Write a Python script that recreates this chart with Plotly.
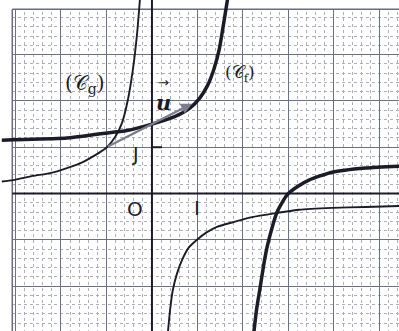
import plotly.graph_objects as go

# ---- data (units of the grid) ----
f_left_x = [-3.3, -3.05, -1.87, -1.14, -0.55, 0.0, 0.5, 0.84, 1.05, 1.22, 1.36, 1.48, 1.58, 1.67]
f_left_y = [1.15, 1.16, 1.20, 1.29, 1.36, 1.50, 1.66, 1.85, 2.06, 2.33, 2.68, 3.12, 3.70, 4.25]
f_right_x = [2.24, 2.30, 2.37, 2.45, 2.53, 2.64, 2.75, 2.97, 3.20, 3.45, 3.96, 4.70, 5.45]
f_right_y = [-3.0, -2.50, -2.08, -1.58, -1.16, -0.74, -0.40, -0.03, 0.15, 0.29, 0.46, 0.55, 0.59]

g_left_x = [-3.3, -3.05, -2.62, -2.24, -1.87, -1.52, -1.21, -0.99, -0.81, -0.66, -0.53, -0.42, -0.33, -0.26]
g_left_y = [0.26, 0.29, 0.38, 0.44, 0.55, 0.68, 0.85, 1.00, 1.22, 1.52, 2.02, 2.67, 3.42, 4.25]
g_right_x = [0.35, 0.40, 0.46, 0.55, 0.66, 0.80, 0.99, 1.20, 1.43, 1.78, 2.20, 2.75, 3.23, 3.96, 4.70, 5.45]
g_right_y = [-3.0, -2.50, -2.08, -1.73, -1.44, -1.18, -1.0, -0.84, -0.72, -0.62, -0.51, -0.42, -0.35, -0.31, -0.29, -0.27]

u_start = [-1.0, 1.0]
u_end = [0.88, 1.94]

x_range = [-3.34, 5.43]
y_range = [-2.97, 4.18]
paper_left = -3.07
paper_top = 3.98

INK = "#1c1c28"

fig = go.Figure()

def curve(xs, ys, w):
    fig.add_trace(go.Scatter(x=xs, y=ys, mode="lines",
                             line=dict(color=INK, width=w, shape="spline", smoothing=0.6),
                             hoverinfo="skip", showlegend=False))

curve(g_left_x, g_left_y, 1.9)
curve(g_right_x, g_right_y, 1.9)
curve(f_left_x, f_left_y, 3.5)
curve(f_right_x, f_right_y, 3.5)

shapes = [
    dict(type="rect", xref="x", yref="y", x0=x_range[0], x1=paper_left,
         y0=y_range[0], y1=y_range[1], fillcolor="white", line=dict(width=0), layer="between"),
    dict(type="rect", xref="x", yref="y", x0=x_range[0], x1=x_range[1],
         y0=paper_top, y1=y_range[1], fillcolor="white", line=dict(width=0), layer="between"),
    dict(type="line", xref="x", yref="y", x0=paper_left, x1=x_range[1], y0=paper_top, y1=paper_top,
         line=dict(color="#686c80", width=1.5), layer="between"),
    dict(type="line", xref="x", yref="y", x0=paper_left, x1=paper_left, y0=y_range[0], y1=paper_top,
         line=dict(color="#686c80", width=1.5), layer="between"),
    dict(type="line", xref="x", yref="y", x0=paper_left, x1=x_range[1], y0=0, y1=0,
         line=dict(color=INK, width=2), layer="between"),
    dict(type="line", xref="x", yref="y", x0=0, x1=0, y0=y_range[0], y1=y_range[1],
         line=dict(color=INK, width=2), layer="between"),
    dict(type="line", xref="x", yref="y", x0=0, x1=0.22, y0=1, y1=1,
         line=dict(color=INK, width=2), layer="between"),
]

# labels, positioned in pixels then converted to data coordinates
X0, UX, Y0, UY = 152.0, 45.5, 193.5, 46.3
labels = [
    (85, 84, "(𝒞<sub>g</sub>)", "DejaVu Serif", 20),
    (240, 73, "(𝒞<sub>f</sub>)", "DejaVu Serif", 17),
    (164, 102, "<b><i>u</i></b>", "DejaVu Serif", 21),
    (164, 82, "→", "DejaVu Sans", 13),
    (136, 154, "J", "DejaVu Sans", 19),
    (135, 209, "O", "DejaVu Sans", 20),
    (197, 208, "I", "DejaVu Sans", 20),
]
annotations = [
    dict(x=u_end[0], y=u_end[1], ax=u_start[0], ay=u_start[1], xref="x", yref="y",
         axref="x", ayref="y", text="", showarrow=True, arrowhead=2, arrowsize=1,
         arrowwidth=2.2, arrowcolor="#7c7c8c"),
]
for px, py, t, fam, sz in labels:
    annotations.append(dict(x=(px - X0) / UX, y=(Y0 - py) / UY, xref="x", yref="y", text=t,
                            showarrow=False, font=dict(family=fam, size=sz, color=INK)))
# caption cut off at the top edge
annotations.append(dict(x=274 / 399, y=1 + 10 / 331, xref="paper", yref="paper", text="(b)",
                        showarrow=False, yanchor="middle",
                        font=dict(family="DejaVu Sans", size=20, color=INK)))

fig.update_layout(
    width=399, height=331,
    margin=dict(l=0, r=0, t=0, b=0),
    paper_bgcolor="white", plot_bgcolor="white",
    shapes=shapes, annotations=annotations,
    xaxis=dict(range=x_range, dtick=1, tick0=0, showgrid=True, gridcolor="#6c7084", gridwidth=1.2,
               zeroline=False, showticklabels=False, ticks="", fixedrange=True,
               minor=dict(dtick=0.2, tick0=0, showgrid=True, gridcolor="#aaaebe", gridwidth=1, griddash="dot")),
    yaxis=dict(range=y_range, dtick=1, tick0=0, showgrid=True, gridcolor="#6c7084", gridwidth=1.2,
               zeroline=False, showticklabels=False, ticks="", fixedrange=True,
               minor=dict(dtick=0.2, tick0=0, showgrid=True, gridcolor="#aaaebe", gridwidth=1, griddash="dot")),
)

fig.write_html("out.html", config={"displayModeBar": False},
               post_script="document.body.style.margin='0';document.body.style.overflow='hidden';")
